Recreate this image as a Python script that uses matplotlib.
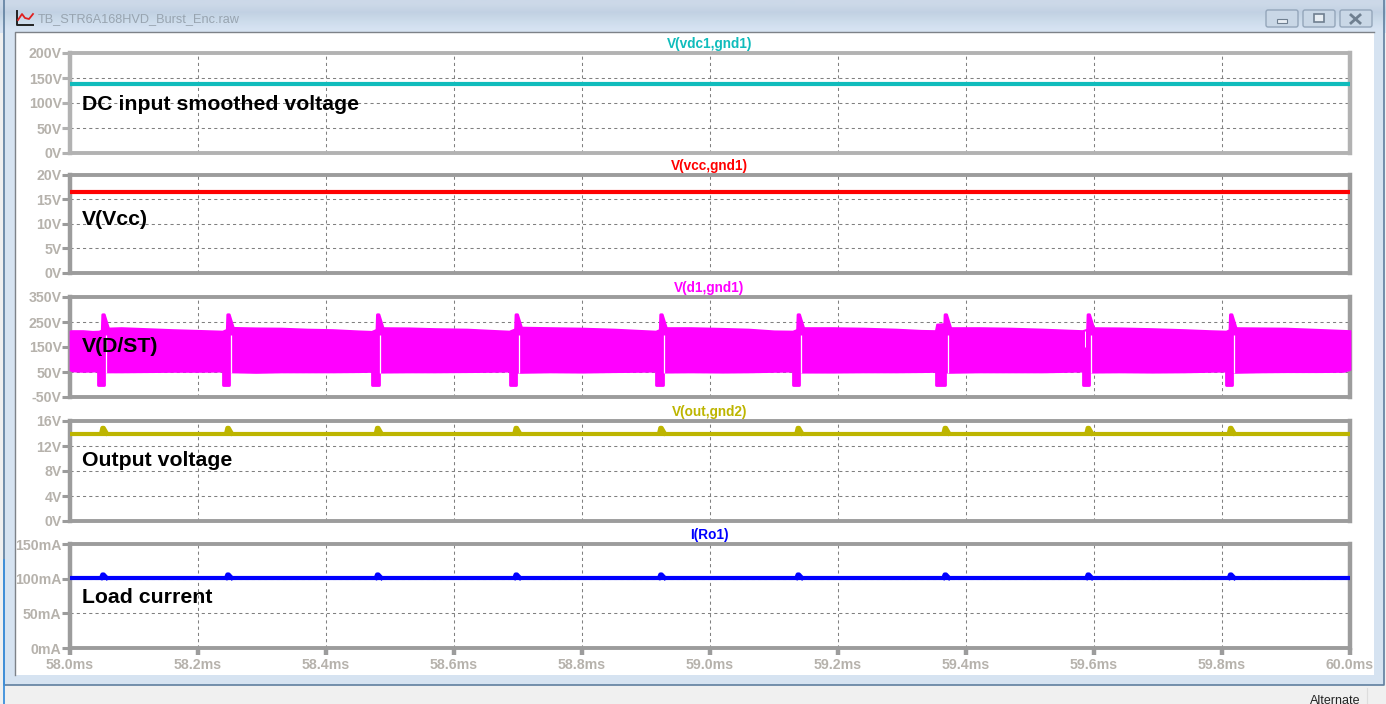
# -*- coding: utf-8 -*-
import matplotlib
matplotlib.use('Agg')
import matplotlib.pyplot as plt
import matplotlib.patches as mpatches
import numpy as np

plt.rcParams['font.family'] = ['Liberation Sans', 'DejaVu Sans']

W, H = 1386, 704

# x axis
x_ticks = [58.0, 58.2, 58.4, 58.6, 58.8, 59.0, 59.2, 59.4, 59.6, 59.8, 60.0]
x_labels = ['58.0ms', '58.2ms', '58.4ms', '58.6ms', '58.8ms', '59.0ms', '59.2ms', '59.4ms', '59.6ms', '59.8ms', '60.0ms']

# y axes of the five panes
vdc_ticks = [0, 50, 100, 150, 200]
vdc_labels = ['0V', '50V', '100V', '150V', '200V']
vcc_ticks = [0, 5, 10, 15, 20]
vcc_labels = ['0V', '5V', '10V', '15V', '20V']
drain_ticks = [-50, 50, 150, 250, 350]
drain_labels = ['-50V', '50V', '150V', '250V', '350V']
out_ticks = [0, 4, 8, 12, 16]
out_labels = ['0V', '4V', '8V', '12V', '16V']
load_ticks = [0, 50, 100, 150]
load_labels = ['0mA', '50mA', '100mA', '150mA']

# flat traces
vdc_level = 138.5
vcc_level = 16.5
out_level = 14.0
out_bump = 14.9
load_level = 101.0
load_bump = 106.0

# burst events, ms
burst_dip_start = [58.0443, 58.2393, 58.4724, 58.6874, 58.9162, 59.1302, 59.3537, 59.5833, 59.8068]
burst_dip_end = [58.0537, 58.2490, 58.4823, 58.6970, 58.9260, 59.1396, 59.3678, 59.5928, 59.8157]
burst_peak = [58.0516, 58.2469, 58.4808, 58.6973, 58.9234, 59.1380, 59.3677, 59.5911, 59.8136]
burst_slit = [58.0567, 58.2523, 58.4848, 58.7016, 58.9281, 59.1427, 59.3714, 59.5953, 59.8183]
drain_peak = 281
drain_dip = -3

# switching envelope of V(d1,gnd1)
band_t = [58.000, 58.003, 58.020, 58.035, 58.045,
          58.056, 58.080, 58.120, 58.160, 58.200, 58.238,
          58.252, 58.290, 58.330, 58.370, 58.410, 58.450, 58.471,
          58.485, 58.530, 58.570, 58.620, 58.660, 58.686,
          58.702, 58.750, 58.800, 58.850, 58.890, 58.915,
          58.928, 58.970, 59.020, 59.060, 59.100, 59.129,
          59.143, 59.190, 59.240, 59.290, 59.330, 59.352, 59.354, 59.366,
          59.372, 59.420, 59.470, 59.520, 59.560, 59.582,
          59.596, 59.640, 59.690, 59.740, 59.780, 59.806,
          59.819, 59.860, 59.900, 59.950, 59.990, 60.000]
band_hi = [215, 216, 216, 213, 214,
           226, 228, 224, 220, 217, 214,
           229, 227, 226, 222, 220, 215, 213,
           228, 227, 224, 222, 217, 214,
           230, 228, 226, 222, 217, 214,
           228, 228, 225, 222, 215, 214,
           228, 228, 226, 222, 217, 216, 242, 244,
           228, 228, 226, 222, 218, 216,
           228, 227, 224, 220, 216, 214,
           228, 227, 226, 221, 217, 216]
band_lo = [58, 54, 52, 53, 54,
           50, 50, 51, 52, 52, 53,
           50, 48, 50, 50, 50, 51, 52,
           49, 50, 50, 51, 52, 53,
           48, 50, 49, 51, 52, 53,
           49, 50, 49, 50, 52, 53,
           49, 49, 50, 50, 51, 52, 52, 52,
           48, 50, 50, 50, 52, 53,
           49, 50, 49, 50, 52, 53,
           48, 50, 51, 51, 52, 60]

GRAY = '#9c9c9c'
LABEL = '#b6b2ac'


def pane(top, bottom, yticks, ylabels, ylim, title, title_color, frame=GRAY, last=False):
    ax = fig.add_axes([70. / W, 1 - bottom / H, 1280. / W, (bottom - top) / H])
    ax.set_facecolor('none')
    ax.set_xlim(58.0, 60.0)
    ax.set_ylim(ylim)
    ax.set_xticks(x_ticks)
    ax.set_yticks(yticks)
    ax.set_yticklabels(ylabels)
    ax.set_axisbelow(True)
    ax.grid(True, color='#808080', lw=0.75, linestyle=(0, (3, 3)))
    for side in ['top', 'bottom']:
        ax.spines[side].set_linewidth(2.8)
        ax.spines[side].set_color(frame)
    for side in ['left', 'right']:
        ax.spines[side].set_linewidth(3.2)
        ax.spines[side].set_color(frame)
    ax.tick_params(axis='y', direction='out', length=6, width=2.2, color=frame, pad=0,
                   labelsize=10.2, labelcolor=LABEL)
    if last:
        ax.set_xticklabels(x_labels)
        ax.tick_params(axis='x', direction='out', length=5, width=3.2, color=frame, pad=2,
                       labelsize=10.2, labelcolor=LABEL)
    else:
        ax.tick_params(axis='x', length=0, labelbottom=False)
    for lab in ax.get_yticklabels() + ax.get_xticklabels():
        lab.set_fontweight('bold')
    ax.annotate(title, xy=(59.0, ylim[1]), xytext=(-0.5, 1.5), textcoords='offset points', color=title_color,
                fontsize=9.8, fontweight='bold', ha='center', va='bottom')
    return ax


def note(ax, y, s):
    ax.text(58.01875, y, s, color='black', fontsize=15.3, fontweight='bold', va='center', ha='left', zorder=10)


fig = plt.figure(figsize=(W / 100., H / 100.), dpi=100, facecolor='#f0f0f0')

# window chrome, in pixels
bg = fig.add_axes([0, 0, 1, 1])
bg.set_xlim(0, W)
bg.set_ylim(H, 0)
bg.axis('off')
grad = np.array([[0.80, 0.85, 0.91], [0.76, 0.82, 0.89], [0.80, 0.86, 0.92], [0.84, 0.89, 0.95]])
bg.imshow(grad[:, None, :], extent=[0, W, 33, 0], aspect='auto', interpolation='bilinear', zorder=0)
bg.set_xlim(0, W)
bg.set_ylim(H, 0)
bg.add_patch(mpatches.Rectangle((3, 30), W - 5, 655, fc='#d6e3f1', ec='none', zorder=1))
bg.add_patch(mpatches.Rectangle((15, 32), 1359, 643, fc='white', ec='none', zorder=2))
bg.plot([15, 15, 1374], [675, 32, 32], color='#7d8288', lw=1.0, zorder=3)
bg.plot([3.5, 3.5, W - 2, W - 2], [0, 685, 685, 0], color='#5f7f9f', lw=1.2, zorder=3)
bg.plot([3.5, 3.5], [560, 704], color='#3c8fdc', lw=1.3, zorder=3)
bg.add_patch(mpatches.Rectangle((5, 686), W - 5, 18, fc='#f0f0f0', ec='none', zorder=1))
bg.plot([1367, 1367], [688, 704], color='#dddddd', lw=0.8, zorder=3)
bg.text(1335, 700.5, 'Alternate', fontsize=9, color='#222222', ha='center', va='center', zorder=4)

# title bar
bg.text(38, 19.5, 'TB_STR6A168HVD_Burst_Enc.raw', fontsize=9.2, color='#98a4b0', va='center', ha='left', zorder=4)
bg.plot([17, 17, 33], [11, 25, 25], color='#222222', lw=1.4, zorder=4)
bg.plot([18, 22, 25, 29, 33], [20, 14, 18, 19, 14], color='#e02020', lw=1.3, zorder=4)
for x0, x1 in [(1265, 1299), (1302, 1336), (1339, 1373)]:
    bg.add_patch(mpatches.FancyBboxPatch((x0 + 1, 10), x1 - x0 - 2, 17, boxstyle='round,pad=0,rounding_size=2',
                                         fc='#c9d7e6', ec='#94a6ba', lw=1.0, zorder=4))
bg.add_patch(mpatches.Rectangle((1277, 19), 10, 3.5, fc='#e8eef4', ec='#6f7f90', lw=0.8, zorder=5))
bg.add_patch(mpatches.Rectangle((1314, 14), 10, 8, fc='#e8eef4', ec='#6f7f90', lw=1.2, zorder=5))
bg.plot([1351, 1360], [15, 23], color='#6f7f90', lw=2.0, zorder=5)
bg.plot([1351, 1360], [23, 15], color='#6f7f90', lw=2.0, zorder=5)

# panes
ax1 = pane(53, 153, vdc_ticks, vdc_labels, (0, 200), 'V(vdc1,gnd1)', '#10bcbc', frame='#b2b2b2')
ax1.plot([58.0, 60.0], [vdc_level, vdc_level], color='#10bcbc', lw=3.0, clip_on=False, zorder=4, solid_capstyle='butt')
note(ax1, 97, 'DC input smoothed voltage')

ax2 = pane(175, 273, vcc_ticks, vcc_labels, (0, 20), 'V(vcc,gnd1)', '#ff0000')
ax2.plot([58.0, 60.0], [vcc_level, vcc_level], color='#ff0000', lw=3.0, clip_on=False, zorder=4, solid_capstyle='butt')
note(ax2, 11.0, 'V(Vcc)')

ax3 = pane(297, 397, drain_ticks, drain_labels, (-50, 350), 'V(d1,gnd1)', '#ff00ff')
ax3.fill_between(band_t, band_lo, band_hi, color='#ff00ff', lw=1.2, clip_on=False, zorder=4)
for i in range(len(burst_peak)):
    ax3.fill_between([burst_dip_start[i], burst_dip_end[i]], [drain_dip, drain_dip], [100, 100],
                     color='#ff00ff', lw=2.0, joinstyle='round', zorder=4)
    p = burst_peak[i]
    ax3.fill_between([p - 0.002, p - 0.0012, p + 0.0012, p + 0.008], [200, 200, 200, 200],
                     [214, drain_peak, drain_peak, 224], color='#ff00ff', lw=2.0, joinstyle='round', zorder=4)
ax3.vlines(burst_slit, 46, 198, color='white', lw=0.9, zorder=5)
ax3.vlines([59.5859], 152, 214, color='white', lw=0.7, zorder=5)
note(ax3, 150, 'V(D/ST)')

ax4 = pane(421, 521, out_ticks, out_labels, (0, 16), 'V(out,gnd2)', '#bdb500')
ax4.plot([58.0, 60.0], [out_level, out_level], color='#bdb500', lw=3.0, clip_on=False, zorder=4, solid_capstyle='butt')
for p in burst_peak:
    ax4.plot([p - 0.003, p - 0.001, p + 0.001, p + 0.006], [out_level, out_bump, out_bump, out_level],
             color='#bdb500', lw=3.0, zorder=4)
note(ax4, 9.6, 'Output voltage')

ax5 = pane(544, 648, load_ticks, load_labels, (0, 150), 'I(Ro1)', '#0000ff', last=True)
ax5.plot([58.0, 60.0], [load_level, load_level], color='#0000ff', lw=3.0, clip_on=False, zorder=4, solid_capstyle='butt')
for p in burst_peak:
    ax5.plot([p - 0.003, p - 0.001, p + 0.001, p + 0.006], [load_level, load_bump, load_bump, load_level],
             color='#0000ff', lw=3.0, zorder=4)
note(ax5, 73.5, 'Load current')

plt.savefig('out.png', dpi=100, facecolor=fig.get_facecolor())
plt.close()
